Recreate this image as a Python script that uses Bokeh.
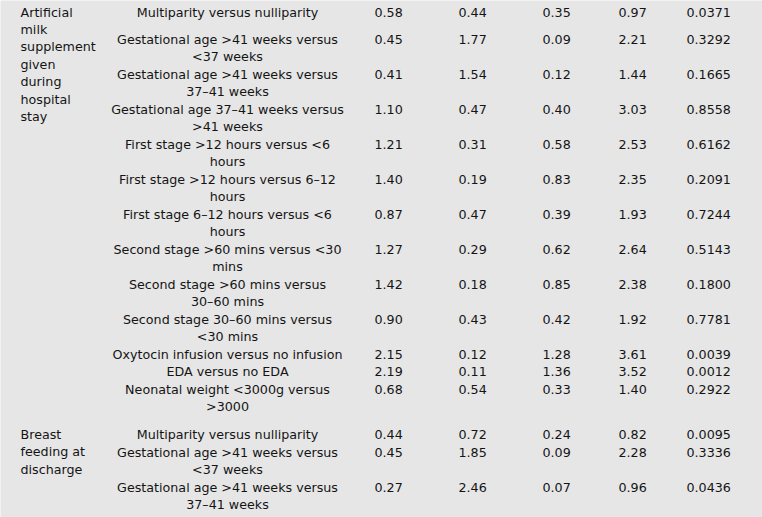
from bokeh.plotting import figure
from bokeh.models import Range1d, ColumnDataSource
from bokeh.embed import file_html
from bokeh.resources import INLINE
from bokeh.core.properties import value

# ---------------- data ----------------
group_labels = ["Artificial\nmilk\nsupplement\ngiven\nduring\nhospital\nstay",
                "Breast\nfeeding at\ndischarge"]
group_sizes = [13, 3]

comparisons = [
    "Multiparity versus nulliparity",
    "Gestational age >41 weeks versus\n<37 weeks",
    "Gestational age >41 weeks versus\n37\u201341 weeks",
    "Gestational age 37\u201341 weeks versus\n>41 weeks",
    "First stage >12 hours versus <6\nhours",
    "First stage >12 hours versus 6\u201312\nhours",
    "First stage 6\u201312 hours versus <6\nhours",
    "Second stage >60 mins versus <30\nmins",
    "Second stage >60 mins versus\n30\u201360 mins",
    "Second stage 30\u201360 mins versus\n<30 mins",
    "Oxytocin infusion versus no infusion",
    "EDA versus no EDA",
    "Neonatal weight <3000g versus\n>3000",
    "Multiparity versus nulliparity",
    "Gestational age >41 weeks versus\n<37 weeks",
    "Gestational age >41 weeks versus\n37\u201341 weeks",
]

estimate = ["0.58", "0.45", "0.41", "1.10", "1.21", "1.40", "0.87", "1.27",
            "1.42", "0.90", "2.15", "2.19", "0.68", "0.44", "0.45", "0.27"]
std_error = ["0.44", "1.77", "1.54", "0.47", "0.31", "0.19", "0.47", "0.29",
             "0.18", "0.43", "0.12", "0.11", "0.54", "0.72", "1.85", "2.46"]
ci_lower = ["0.35", "0.09", "0.12", "0.40", "0.58", "0.83", "0.39", "0.62",
            "0.85", "0.42", "1.28", "1.36", "0.33", "0.24", "0.09", "0.07"]
ci_upper = ["0.97", "2.21", "1.44", "3.03", "2.53", "2.35", "1.93", "2.64",
            "2.38", "1.92", "3.61", "3.52", "1.40", "0.82", "2.28", "0.96"]
p_value = ["0.0371", "0.3292", "0.1665", "0.8558", "0.6162", "0.2091", "0.7244",
           "0.5143", "0.1800", "0.7781", "0.0039", "0.0012", "0.2922", "0.0095",
           "0.3336", "0.0436"]

# ---------------- layout ----------------
BG = "#e6e6e6"
INK = "#141414"
FONT = value("DejaVu Sans")
SIZE = "12.7px"
LINE = 17.5
GROUP_LINE = 17.4
FIRST_BASELINE = 11.5
GAP_AFTER_FIRST = 9.5
GROUP_GAP = 10.5

LABEL_X = 227
GROUP_X = 20
VALUE_X = [374, 458, 542, 618, 686]

row_y = []
group_y = []
y = FIRST_BASELINE
idx = 0
for g, n in enumerate(group_sizes):
    if g > 0:
        y += GROUP_GAP
    group_y.append(y)
    for k in range(n):
        row_y.append(y)
        nl = comparisons[idx].count("\n") + 1
        y += nl * LINE
        if idx == 0:
            y += GAP_AFTER_FIRST
        idx += 1

lab_x, lab_y, lab_t = [], [], []
for ry, c in zip(row_y, comparisons):
    for k, line in enumerate(c.split("\n")):
        lab_x.append(LABEL_X)
        lab_y.append(ry + k * LINE)
        lab_t.append(line)

grp_x, grp_y, grp_t = [], [], []
for gy, gl in zip(group_y, group_labels):
    for k, line in enumerate(gl.split("\n")):
        grp_x.append(GROUP_X)
        grp_y.append(gy + k * GROUP_LINE)
        grp_t.append(line)

val_x, val_y, val_t = [], [], []
for col, vals in zip(VALUE_X, [estimate, std_error, ci_lower, ci_upper, p_value]):
    for ry, v in zip(row_y, vals):
        val_x.append(col)
        val_y.append(ry)
        val_t.append(v)

W, H = 762, 517
p = figure(width=W, height=H, output_backend="svg", toolbar_location=None,
           x_range=Range1d(0, W), y_range=Range1d(H, 0),
           min_border=0, background_fill_color=BG, border_fill_color=BG,
           outline_line_color=None)
p.axis.visible = False
p.grid.visible = False

p.text(x="x", y="y", text="t", source=ColumnDataSource(dict(x=grp_x, y=grp_y, t=grp_t)),
       text_font=FONT, text_font_size=SIZE, text_align="left",
       text_baseline="alphabetic", text_color=INK)
p.text(x="x", y="y", text="t", source=ColumnDataSource(dict(x=lab_x, y=lab_y, t=lab_t)),
       text_font=FONT, text_font_size=SIZE, text_align="center",
       text_baseline="alphabetic", text_color=INK)
p.text(x="x", y="y", text="t", source=ColumnDataSource(dict(x=val_x, y=val_y, t=val_t)),
       text_font=FONT, text_font_size=SIZE, text_align="left",
       text_baseline="alphabetic", text_color=INK)

html = file_html(p, INLINE)
html = html.replace("<body>", '<body style="background-color:%s;margin:0;overflow:hidden;">' % BG, 1)
open("out.html", "w").write(html)
